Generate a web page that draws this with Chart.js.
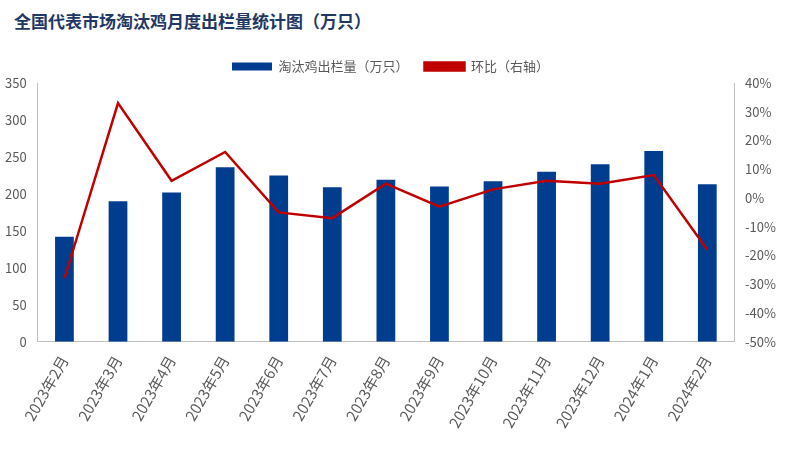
<!DOCTYPE html>
<html>
<head>
<meta charset="utf-8">
<script src="https://cdn.jsdelivr.net/npm/chart.js@4"></script>
<style>
  body { margin: 0; background: #fff; }
  #wrap { position: relative; width: 793px; height: 451px; }
  #title { position: absolute; left: 14px; top: 8px; font: bold 17px "Noto Sans CJK SC"; color: #1f3864; }
  #box { position: absolute; left: 0; top: 44px; width: 793px; height: 404px; }
</style>
</head>
<body>
<div id="wrap">
  <div id="title">全国代表市场淘汰鸡月度出栏量统计图（万只）</div>
  <div id="box"><canvas id="c"></canvas></div>
</div>
<script>
const months = ['2023年2月','2023年3月','2023年4月','2023年5月','2023年6月','2023年7月','2023年8月','2023年9月','2023年10月','2023年11月','2023年12月','2024年1月','2024年2月'];
const volume = [142, 190, 202, 236, 225, 209, 219, 210, 217, 230, 240, 258, 213];
const mom = [-28, 33, 6, 16, -5, -7, 5, -3, 3, 6, 5, 8, -18];

const font = { family: '"Noto Sans CJK SC"', size: 13 };
const tickColor = '#595959';

new Chart(document.getElementById('c'), {
    data: {
        labels: months,
        datasets: [{
            type: 'line',
            label: '环比（右轴）',
            data: mom,
            yAxisID: 'y2',
            borderColor: '#c00000',
            backgroundColor: '#c00000',
            borderWidth: 2.5,
            pointRadius: 0,
            tension: 0,
            order: 0
        }, {
            type: 'bar',
            label: '淘汰鸡出栏量（万只）',
            data: volume,
            yAxisID: 'y',
            backgroundColor: '#003d8f',
            barPercentage: 0.7,
            categoryPercentage: 0.5,
            order: 1
        }]
    },
    options: {
        responsive: true,
        maintainAspectRatio: false,
        animation: false,
        layout: { padding: { left: 2, right: 14, bottom: 0 } },
        plugins: {
            legend: {
                position: 'top',
                reverse: true,
                labels: { font: font, color: tickColor, boxWidth: 40, boxHeight: 8, padding: 16 }
            },
            tooltip: { enabled: false }
        },
        scales: {
            x: {
                grid: { display: false },
                border: { color: '#bfbfbf' },
                ticks: { font: { family: font.family, size: 15 }, color: tickColor, maxRotation: 60, minRotation: 60 },
                afterFit: s => { s.height += 14; }
            },
            y: {
                position: 'left',
                min: 0, max: 350,
                ticks: { stepSize: 50, font: font, color: tickColor },
                grid: { display: false },
                border: { color: '#bfbfbf' }
            },
            y2: {
                position: 'right',
                min: -50, max: 40,
                ticks: { stepSize: 10, font: font, color: tickColor, callback: v => v + '%' },
                grid: { display: false },
                border: { color: '#bfbfbf' }
            }
        }
    }
});
</script>
</body>
</html>
